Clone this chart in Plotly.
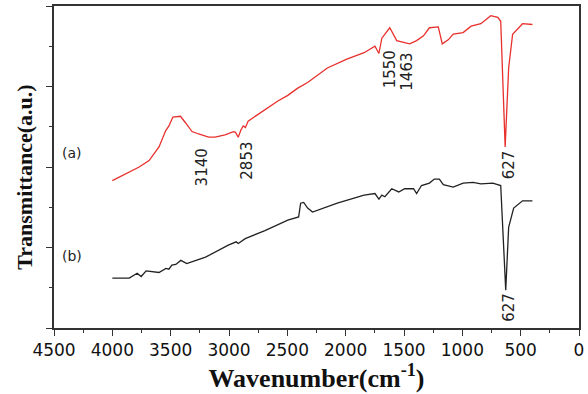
import plotly.graph_objects as go

# Spectrum (a) – red
wn_a = [4000, 3770, 3685, 3600, 3543, 3515, 3481, 3416, 3373, 3317, 3260, 3175, 3119,
        3034, 2963, 2944, 2921, 2898, 2878, 2859, 2836, 2666, 2581, 2496, 2411, 2326,
        2157, 1990, 1842, 1749, 1715, 1690, 1622, 1562, 1494, 1452, 1392, 1333, 1282,
        1206, 1172, 1121, 1078, 993, 925, 841, 756, 696, 671, 633, 603, 569, 484, 399]
tr_a = [1.83, 2.00, 2.08, 2.25, 2.45, 2.51, 2.62, 2.63, 2.55, 2.44, 2.41, 2.37, 2.37,
        2.40, 2.44, 2.43, 2.37, 2.46, 2.51, 2.49, 2.57, 2.74, 2.82, 2.89, 2.98, 3.05,
        3.23, 3.34, 3.42, 3.50, 3.41, 3.60, 3.73, 3.57, 3.54, 3.53, 3.57, 3.63, 3.73,
        3.74, 3.53, 3.58, 3.65, 3.67, 3.75, 3.78, 3.88, 3.86, 3.81, 2.25, 3.23, 3.65,
        3.78, 3.77]

# Spectrum (b) – black
wn_b = [4000, 3855, 3787, 3753, 3710, 3600, 3541, 3515, 3490, 3456, 3413, 3362, 3320,
        3201, 3006, 2938, 2921, 2861, 2692, 2496, 2403, 2386, 2360, 2326, 2284, 2072,
        1842, 1749, 1715, 1690, 1664, 1605, 1545, 1494, 1418, 1392, 1350, 1282, 1240,
        1197, 1163, 1078, 993, 908, 841, 739, 671, 628, 603, 560, 484, 399]
tr_b = [0.62, 0.62, 0.68, 0.64, 0.71, 0.69, 0.74, 0.73, 0.78, 0.79, 0.84, 0.80, 0.82,
        0.88, 1.03, 1.07, 1.05, 1.11, 1.21, 1.34, 1.38, 1.55, 1.56, 1.49, 1.44, 1.55,
        1.65, 1.67, 1.60, 1.65, 1.63, 1.73, 1.69, 1.73, 1.73, 1.67, 1.77, 1.80, 1.85,
        1.85, 1.78, 1.75, 1.80, 1.81, 1.79, 1.80, 1.77, 0.47, 1.25, 1.49, 1.58, 1.58]

# Peak labels (text, wavenumber position, transmittance position)
peak_text = ["3140", "2853", "1550", "1463", "627", "627"]
peak_x = [3235, 2853, 1622, 1477, 603, 603]
peak_y = [1.99, 2.08, 3.21, 3.18, 2.03, 0.26]

curve_text = ["(a)", "(b)"]
curve_x = [4347, 4347]
curve_y = [2.17, 0.89]

x_ticks = [4500, 4000, 3500, 3000, 2500, 2000, 1500, 1000, 500, 0]

fig = go.Figure()
fig.add_trace(go.Scatter(x=wn_a, y=tr_a, mode="lines",
                         line=dict(color="#e8302c", width=1.3), showlegend=False))
fig.add_trace(go.Scatter(x=wn_b, y=tr_b, mode="lines",
                         line=dict(color="#222222", width=1.3), showlegend=False))

for t, x, y in zip(peak_text, peak_x, peak_y):
    fig.add_annotation(x=x, y=y, text=t, textangle=-90, showarrow=False,
                       font=dict(family="DejaVu Sans", size=15, color="#222222"))
for t, x, y in zip(curve_text, curve_x, curve_y):
    fig.add_annotation(x=x, y=y, text=t, showarrow=False,
                       font=dict(family="DejaVu Sans", size=14, color="#222222"))

# y-axis title placed as an annotation to match the reference position
fig.add_annotation(xref="paper", yref="paper", x=-0.055, y=0.467,
                   xanchor="center", yanchor="middle", textangle=-90, showarrow=False,
                   text="<b>Transmittance(a.u.)</b>",
                   font=dict(family="Liberation Serif", size=22, color="#111111"))

fig.update_layout(
    width=588, height=394,
    margin=dict(l=54, r=4, t=5, b=66),
    paper_bgcolor="white", plot_bgcolor="white",
    xaxis=dict(
        range=[4500, 0], tickvals=x_ticks, ticktext=[str(v) for v in x_ticks],
        ticks="outside", ticklen=6, tickwidth=1.3, tickcolor="#333333",
        minor=dict(dtick=250, tick0=0, ticks="outside", ticklen=3, tickcolor="#333333"),
        showline=True, linecolor="#333333", linewidth=1.6, mirror=True,
        showgrid=False, zeroline=False,
        tickfont=dict(family="DejaVu Sans", size=17, color="#111111"),
        title=dict(text="<b>Wavenumber(cm<sup>-1</sup>)</b>", standoff=5,
                   font=dict(family="Liberation Serif", size=26, color="#111111")),
    ),
    yaxis=dict(
        range=[0, 4], dtick=1, tick0=0, showticklabels=False,
        ticks="outside", ticklen=6, tickwidth=1.3, tickcolor="#333333",
        minor=dict(dtick=0.5, tick0=0, ticks="outside", ticklen=3, tickcolor="#333333"),
        showline=True, linecolor="#333333", linewidth=1.6, mirror=True,
        showgrid=False, zeroline=False,
    ),
)

fig.write_html("out.html")
